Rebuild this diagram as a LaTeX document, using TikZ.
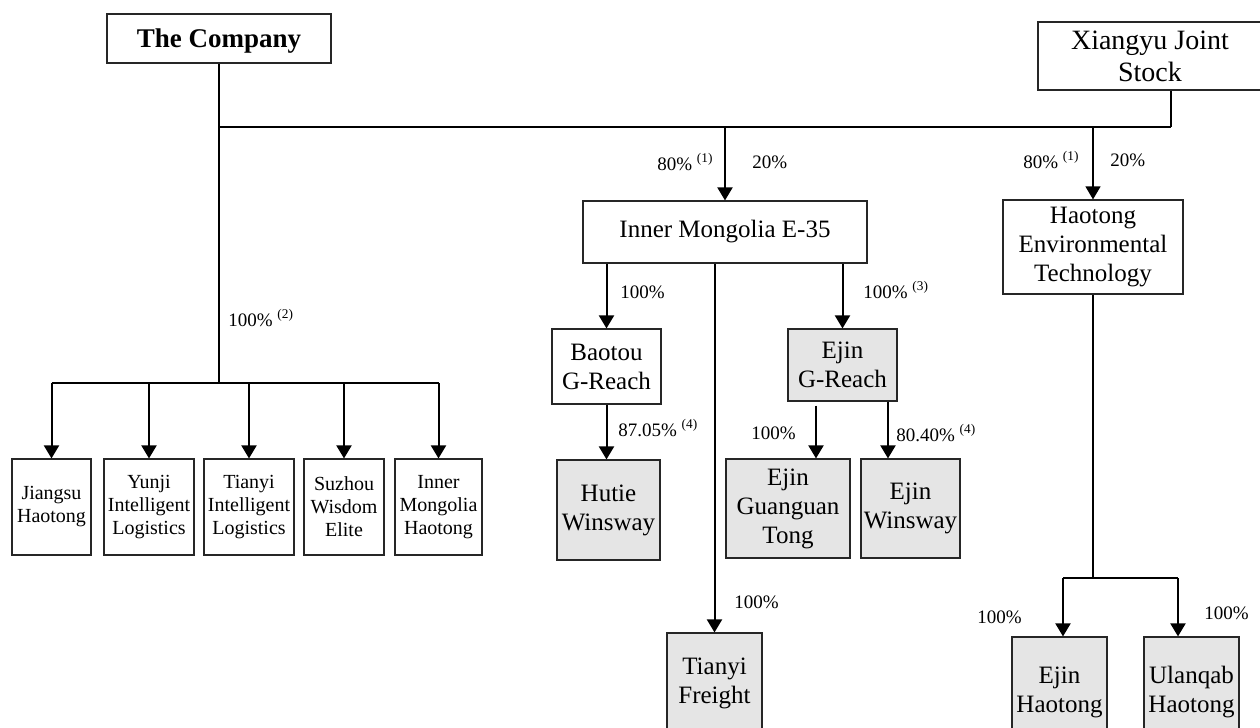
\documentclass[tikz,border=0pt]{standalone}
\usepackage{fontspec}
\setmainfont{Liberation Serif}
\usepackage{tikz}
\usetikzlibrary{arrows.meta}
\definecolor{BoxGray}{rgb}{0.9,0.9,0.9}

\begin{document}
\begin{tikzpicture}[x=0.5pt, y=-0.5pt,
		>={Triangle[length=6.5pt,width=7.5pt]},
		every node/.style={font=\fontsize{12.5}{14.5}\selectfont, align=center},
		box/.style={draw=black!85, line width=0.6pt, inner sep=0pt},
		grey/.style={box, fill=BoxGray},
		small/.style={box, font=\fontsize{10}{11.5}\selectfont, minimum height=48pt},
		pct/.style={font=\fontsize{9.5}{11}\selectfont, anchor=west, inner sep=0pt},
		heavy/.style={line width=1pt},
		light/.style={line width=0.6pt}]
		
		\path[use as bounding box, fill=white] (0,0) rectangle (1260,728);
		
		% owners
		\node[box, minimum width=112pt, minimum height=24.5pt, text depth=0pt, font=\fontsize{13.5}{16}\selectfont\bfseries] (company) at (219,38.5) {The Company};
		\node[box, minimum width=112pt, minimum height=34pt, font=\fontsize{14}{16}\selectfont] (xiangyu) at (1150,56) {Xiangyu Joint\\Stock};
		
		% second level
		\node[box, minimum width=142pt, minimum height=31pt] (e35) at (725,232) {Inner Mongolia E-35};
		\node[box, minimum width=90pt, minimum height=47pt] (haotong) at (1093,247) {Haotong\\Environmental\\Technology};
		
		% subsidiaries of E-35
		\node[box, minimum width=54.5pt, minimum height=37.5pt] (baotou) at (606.5,366.5) {Baotou\\G-Reach};
		\node[grey, minimum width=54.5pt, minimum height=36pt] (ejingr) at (842.5,365) {Ejin\\G-Reach};
		\node[grey, minimum width=51.5pt, minimum height=50pt] (hutie) at (608.5,510) {Hutie\\Winsway};
		\node[grey, minimum width=62pt, minimum height=49.5pt] (guanguan) at (788,508.5) {Ejin\\Guanguan\\Tong};
		\node[grey, minimum width=49.5pt, minimum height=49.5pt] (ejinws) at (910.5,508.5) {Ejin\\Winsway};
		\node[grey, minimum width=47.5pt, minimum height=50pt] (freight) at (714.5,683) {Tianyi\\Freight};
		
		% subsidiaries of Haotong
		\node[grey, minimum width=47.5pt, minimum height=55pt] (ejinht) at (1059.5,692) {Ejin\\Haotong};
		\node[grey, minimum width=47.5pt, minimum height=55pt] (ulanqab) at (1191.5,692) {Ulanqab\\Haotong};
		
		% subsidiaries of the company
		\node[small, minimum width=39.5pt] (jiangsu) at (51.5,507) {Jiangsu\\Haotong};
		\node[small, minimum width=45pt] (yunji) at (149,507) {Yunji\\Intelligent\\Logistics};
		\node[small, minimum width=45pt] (tianyi) at (249,507) {Tianyi\\Intelligent\\Logistics};
		\node[small, minimum width=40pt] (suzhou) at (344,507) {Suzhou\\Wisdom\\Elite};
		\node[small, minimum width=43.5pt] (imhaotong) at (438.5,507) {Inner\\Mongolia\\Haotong};
		
		% top connectors
		\coordinate (tl) at (219,127);
		\coordinate (tr) at (1171,127);
		\coordinate (lbus) at (219,383);
		\draw[heavy] (company.south) -- (lbus);
		\draw[light] (tl) -- (tr);
		\draw[heavy] (tr |- xiangyu.south) -- (tr);
		\draw[heavy, ->] (tl -| e35.north) -- (e35.north);
		\draw[light, ->] (tl -| haotong.north) -- (haotong.north);
		
		% left bus
		\draw[heavy] (jiangsu.north |- lbus) -- (imhaotong.north |- lbus);
		\foreach \n in {jiangsu, yunji, tianyi, suzhou, imhaotong}
			\draw[heavy, ->] (\n.north |- lbus) -- (\n.north);
		
		% E-35 branches
		\draw[heavy, ->] (e35.south -| baotou) -- (baotou.north);
		\draw[heavy, ->] (e35.south -| freight) -- (freight.north);
		\draw[heavy, ->] (e35.south -| ejingr) -- (ejingr.north);
		\draw[heavy, ->] (baotou.south) -- (baotou.south |- hutie.north);
		\draw[heavy, ->] ([xshift=-13.25pt, yshift=-2pt]ejingr.south) -- ([xshift=-13.25pt]ejingr.south |- guanguan.north);
		\draw[heavy, ->] ([xshift=22.75pt]ejingr.south) -- ([xshift=22.75pt]ejingr.south |- ejinws.north);
		
		% Haotong branches
		\coordinate (b1) at (1063,578);
		\coordinate (b2) at (1178,578);
		\draw[heavy] (haotong.south) -- (haotong.south |- b1);
		\draw[light] (b1) -- (b2);
		\draw[heavy, ->] (b1) -- (b1 |- ejinht.north);
		\draw[heavy, ->] (b2) -- (b2 |- ulanqab.north);
		
		% percentages
		\node[pct] (p1) at (657,162) {80\% \textsuperscript{(1)}};
		\node[pct] (p2) at (752,162) {20\%};
		\node[pct] (p3) at (1023,160) {80\% \textsuperscript{(1)}};
		\node[pct] (p4) at (1110,160) {20\%};
		\node[pct] (p5) at (228,318) {100\% \textsuperscript{(2)}};
		\node[pct] (p6) at (620,292) {100\%};
		\node[pct] (p7) at (863,290) {100\% \textsuperscript{(3)}};
		\node[pct] (p8) at (618,428) {87.05\% \textsuperscript{(4)}};
		\node[pct] (p9) at (751,433) {100\%};
		\node[pct] (p10) at (896,433) {80.40\% \textsuperscript{(4)}};
		\node[pct] (p11) at (734,602) {100\%};
		\node[pct] (p12) at (977,617) {100\%};
		\node[pct] (p13) at (1204,613) {100\%};
		
	\end{tikzpicture}
\end{document}
